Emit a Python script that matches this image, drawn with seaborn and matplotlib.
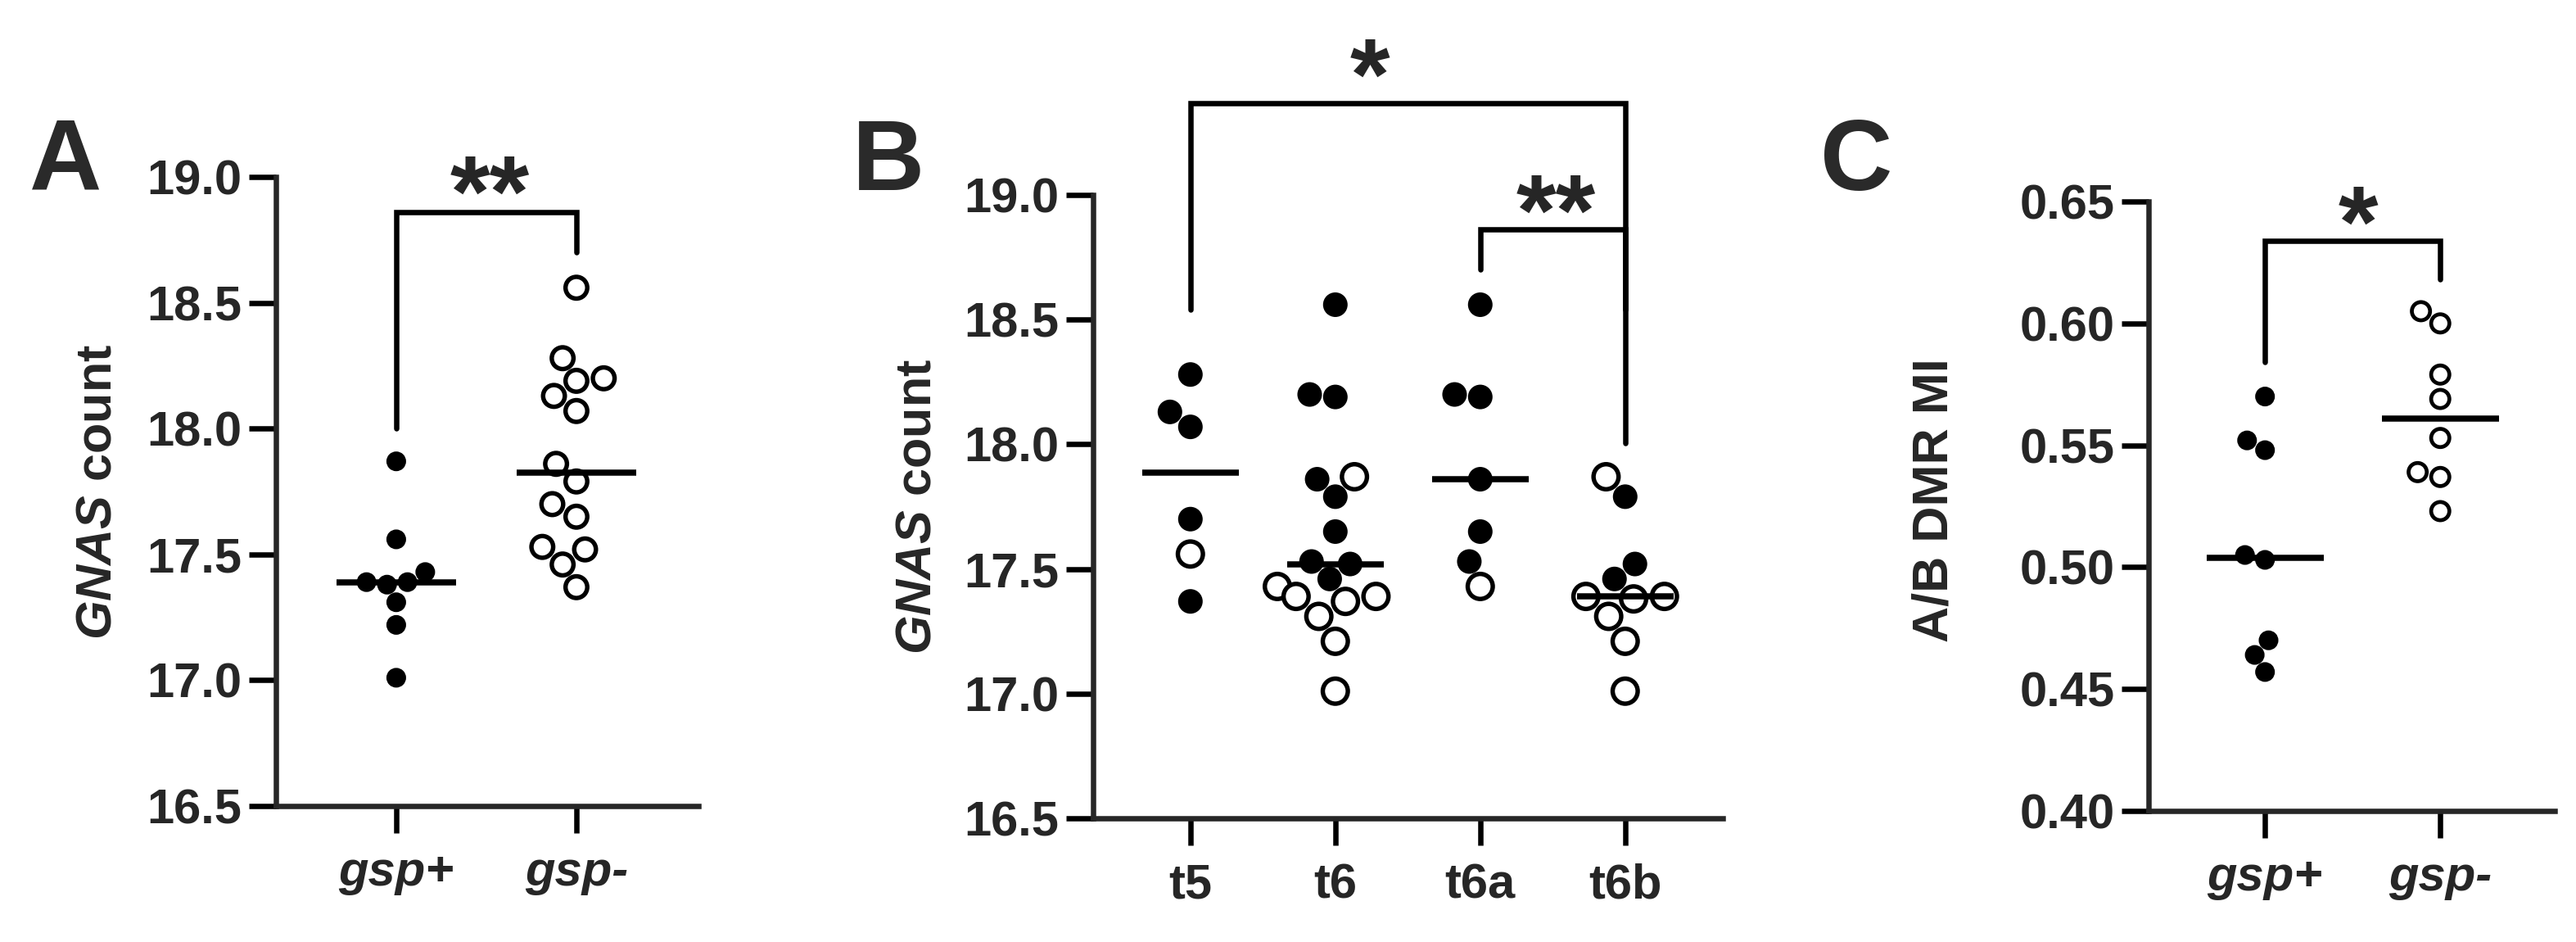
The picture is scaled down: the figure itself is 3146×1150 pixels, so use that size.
import numpy as np
import pandas as pd
import matplotlib
matplotlib.use("Agg")
import matplotlib.pyplot as plt
from matplotlib.ticker import FormatStrFormatter
import seaborn as sns

# Panel A - GNAS count, gsp+ (filled) vs gsp- (open)
a_groups = ["gsp+", "gsp-"]
a_gsp_pos = [17.87, 17.56, 17.43, 17.39, 17.38, 17.39, 17.31, 17.22, 17.01]
a_gsp_neg = [18.56, 18.28, 18.19, 18.20, 18.13, 18.07, 17.86, 17.79,
             17.70, 17.65, 17.53, 17.52, 17.46, 17.37]

# Panel B - GNAS count per sample, filled = gsp+, open = gsp-
b_groups = ["t5", "t6", "t6a", "t6b"]
b_t5_filled = [18.28, 18.13, 18.07, 17.70, 17.37]
b_t5_open = [17.56]
b_t6_filled = [18.56, 18.20, 18.19, 17.86, 17.79, 17.65, 17.53, 17.52, 17.46]
b_t6_open = [17.87, 17.43, 17.39, 17.37, 17.39, 17.31, 17.21, 17.01]
b_t6a_filled = [18.56, 18.19, 18.20, 17.86, 17.65, 17.53]
b_t6a_open = [17.43]
b_t6b_filled = [17.79, 17.52, 17.46]
b_t6b_open = [17.87, 17.39, 17.39, 17.38, 17.31, 17.21, 17.01]

# Panel C - A/B DMR methylation index
c_groups = ["gsp+", "gsp-"]
c_gsp_pos = [0.570, 0.552, 0.548, 0.505, 0.503, 0.470, 0.464, 0.457]
c_gsp_neg = [0.605, 0.600, 0.579, 0.569, 0.553, 0.539, 0.537, 0.523]


def make_df(parts):
    rows = []
    for group, kind, vals in parts:
        for v in vals:
            rows.append({"group": group, "kind": kind, "value": v})
    return pd.DataFrame(rows)


df_a = make_df([("gsp+", "filled", a_gsp_pos), ("gsp-", "open", a_gsp_neg)])
df_b = make_df([("t5", "filled", b_t5_filled), ("t5", "open", b_t5_open),
                ("t6", "filled", b_t6_filled), ("t6", "open", b_t6_open),
                ("t6a", "filled", b_t6a_filled), ("t6a", "open", b_t6a_open),
                ("t6b", "filled", b_t6b_filled), ("t6b", "open", b_t6b_open)])
df_c = make_df([("gsp+", "filled", c_gsp_pos), ("gsp-", "open", c_gsp_neg)])

sns.set_theme(style="ticks")
plt.rcParams["font.family"] = ["Liberation Sans", "DejaVu Sans"]
plt.rcParams["font.weight"] = "bold"
plt.rcParams["axes.labelweight"] = "bold"
plt.rcParams["mathtext.fontset"] = "custom"
plt.rcParams["mathtext.it"] = "Liberation Sans:italic:bold"
plt.rcParams["mathtext.rm"] = "Liberation Sans:bold"
plt.rcParams["mathtext.bf"] = "Liberation Sans:bold"

LW = 4.7
TICK_FS = 43
LABEL_FS = 44
STAR_FS = 90

fig = plt.figure(figsize=(31.46, 11.5), dpi=100)
ax_a = fig.add_axes([0.1071, 0.1443, 0.1640, 0.6678])
ax_b = fig.add_axes([0.4243, 0.1313, 0.2444, 0.6617])
ax_c = fig.add_axes([0.8341, 0.1391, 0.1577, 0.6470])


def draw_panel(ax, df, order, edge_lw, d_filled, d_open):
    sns.swarmplot(data=df, x="group", y="value", hue="kind", order=order,
                  hue_order=["filled", "open"],
                  palette={"filled": "black", "open": "white"},
                  edgecolor="black", linewidth=edge_lw, size=d_open,
                  legend=False, ax=ax)
    # open symbols are drawn a bit larger than the filled ones
    for coll in ax.collections:
        fc = coll.get_facecolors()
        if len(fc) == 0:
            continue
        sizes = np.where(fc[:, 0] > 0.5, (d_open - edge_lw) ** 2, (d_filled - edge_lw) ** 2)
        coll.set_sizes(sizes)
    med = df.groupby("group")["value"].median().reindex(order)
    pos = np.arange(len(order))
    ax.hlines(med.values, pos - 1 / 3, pos + 1 / 3, color="black", lw=5.4, zorder=3)

    ax.set_xticks(pos)
    ax.set_xlabel("")
    sns.despine(ax=ax)
    for s in ["left", "bottom"]:
        ax.spines[s].set_linewidth(LW)
    ax.tick_params(axis="both", direction="out", length=24, width=LW,
                   labelsize=TICK_FS, color="black")
    ax.tick_params(axis="y", pad=6)
    ax.tick_params(axis="x", pad=15)


def bracket(ax, x0, x1, y, y0, y1):
    ax.plot([x0, x0, x1, x1], [y0, y, y, y1], color="black", lw=LW,
            clip_on=False, solid_joinstyle="miter", solid_capstyle="round")


def stars(ax, x, y, text):
    ax.annotate(text, xy=(x, y), xytext=(0, -0.575 * STAR_FS),
                textcoords="offset points", ha="center", va="baseline",
                fontsize=STAR_FS, fontweight="bold", annotation_clip=False)


# A
draw_panel(ax_a, df_a, a_groups, 3.9, 17.3, 23.0)
ax_a.set_xlim(-0.668, 1.677)
ax_a.set_ylim(16.5, 19.0)
ax_a.set_yticks(np.arange(16.5, 19.01, 0.5))
ax_a.yaxis.set_major_formatter(FormatStrFormatter("%.1f"))
ax_a.set_xticklabels(a_groups, fontstyle="italic")
ax_a.set_ylabel(r"$GNAS$ count", fontsize=LABEL_FS)
ax_a.yaxis.set_label_coords(-0.366, 0.5)
bracket(ax_a, 0, 1, 18.86, 18.0, 18.70)
stars(ax_a, 0.52, 19.036, "**")

# B
draw_panel(ax_b, df_b, b_groups, 3.9, 21.6, 25.9)
ax_b.set_xlim(-0.672, 3.672)
ax_b.set_ylim(16.5, 19.0)
ax_b.set_yticks(np.arange(16.5, 19.01, 0.5))
ax_b.yaxis.set_major_formatter(FormatStrFormatter("%.1f"))
ax_b.set_xticklabels(b_groups)
ax_b.set_ylabel(r"$GNAS$ count", fontsize=LABEL_FS)
ax_b.yaxis.set_label_coords(-0.2406, 0.5)
bracket(ax_b, 0, 3, 19.368, 18.54, 18.005)
bracket(ax_b, 2, 3, 18.862, 18.70, 18.54)
stars(ax_b, 1.24, 19.578, "*")
stars(ax_b, 2.52, 19.033, "**")

# C
draw_panel(ax_c, df_c, c_groups, 3.4, 17.3, 19.4)
ax_c.set_xlim(-0.664, 1.654)
ax_c.set_ylim(0.40, 0.65)
ax_c.set_yticks(np.arange(0.40, 0.651, 0.05))
ax_c.yaxis.set_major_formatter(FormatStrFormatter("%.2f"))
ax_c.set_xticklabels(c_groups, fontstyle="italic")
ax_c.set_ylabel("A/B DMR MI", fontsize=LABEL_FS)
ax_c.yaxis.set_label_coords(-0.469, 0.51)
bracket(ax_c, 0, 1, 0.634, 0.584, 0.618)
stars(ax_c, 0.53, 0.6513, "*")

# panel letters
for x, letter in [(0.0114, "A"), (0.3309, "B"), (0.7066, "C")]:
    fig.text(x, 0.7983, letter, ha="left", va="baseline", fontsize=88,
             fontweight="bold", color="#2a2a2a")

fig.savefig("out.png", dpi=100)
